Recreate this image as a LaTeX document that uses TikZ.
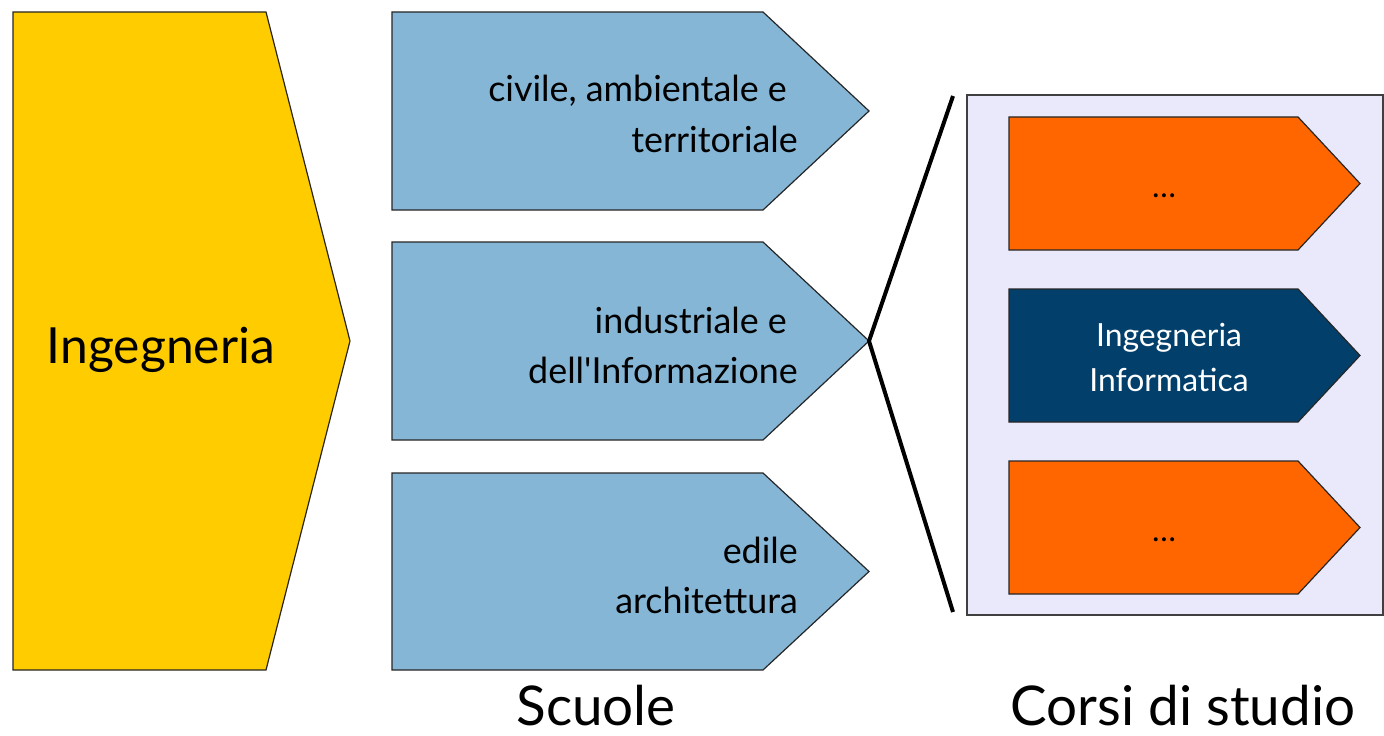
\documentclass[tikz,border=0pt]{standalone}
\usepackage{fontspec}
\setmainfont{Lato}
\definecolor{ingyellow}{HTML}{FFCC00}
\definecolor{schoolblue}{HTML}{86B6D5}
\definecolor{courseorange}{HTML}{FF6600}
\definecolor{coursenavy}{HTML}{033F6B}
\definecolor{panellav}{HTML}{E9E9FB}
\begin{document}
\begin{tikzpicture}[x=1bp,y=-1bp,
  shp/.style={draw=black!85, line width=1.2bp, line join=miter},
  big/.style={inner sep=0pt, font=\fontsize{50}{60}\selectfont},
  mid/.style={inner sep=0pt, font=\fontsize{36}{42}\selectfont},
  small/.style={inner sep=0pt, font=\fontsize{32}{38}\selectfont},
  caption/.style={inner sep=0pt, text depth=0pt, font=\fontsize{55}{60}\selectfont},
  fan/.style={line width=4bp, line join=miter}]
\useasboundingbox (0,0) rectangle (1384,735);
\fill[white] (0,0) rectangle (1384,735);
% main arrow
\draw[shp, fill=ingyellow] (13,12) -- (266,12) -- (350,341) -- (266,670) -- (13,670) -- cycle;
\node[big, anchor=base] (ing) at (161,363) {Ingegneria};
% schools
\draw[shp, fill=schoolblue] (392,12) -- (763,12) -- (869,111) -- (763,210) -- (392,210) -- cycle;
\draw[shp, fill=schoolblue] (392,242) -- (763,242) -- (869,341) -- (763,440) -- (392,440) -- cycle;
\draw[shp, fill=schoolblue] (392,473) -- (763,473) -- (869,571.5) -- (763,670) -- (392,670) -- cycle;
\coordinate (tip2) at (869,341);
\node[mid, anchor=base east] (s1a) at (787,102) {civile, ambientale e};
\node[mid, anchor=base east] (s1b) at (798,152) {territoriale};
\node[mid, anchor=base east] (s2a) at (787,333) {industriale e};
\node[mid, anchor=base east] (s2b) at (798,383) {dell\textquotesingle Informazione};
\node[mid, anchor=base east] (s3a) at (798,563) {edile};
\node[mid, anchor=base east] (s3b) at (798,613) {architettura};
% fan lines
\coordinate (fantop) at (953,96);
\coordinate (fanbot) at (953,612);
\draw[fan] (fantop) -- (tip2) -- (fanbot);
% course panel
\draw[draw=black!75, line width=1.2bp, fill=panellav] (967,95) rectangle (1383,615);
\draw[shp, fill=courseorange] (1009,117) -- (1298,117) -- (1360,183.5) -- (1298,250) -- (1009,250) -- cycle;
\draw[shp, fill=coursenavy] (1009,289) -- (1298,289) -- (1360,355.5) -- (1298,422) -- (1009,422) -- cycle;
\draw[shp, fill=courseorange] (1009,461) -- (1298,461) -- (1360,527.5) -- (1298,594) -- (1009,594) -- cycle;
\node[small, anchor=base] (c1) at (1164,197) {\ldots};
\node[small, anchor=base, text=white] (c2a) at (1169,346) {Ingegneria};
\node[small, anchor=base, text=white] (c2b) at (1169,391) {Informatica};
\node[small, anchor=base] (c3) at (1164,541) {\ldots};
% captions
\node[caption, anchor=base] (scuole) at (596,725) {Scuole};
\node[caption, anchor=base] (corsi) at (1183,725) {Corsi di studio};
\end{tikzpicture}
\end{document}
